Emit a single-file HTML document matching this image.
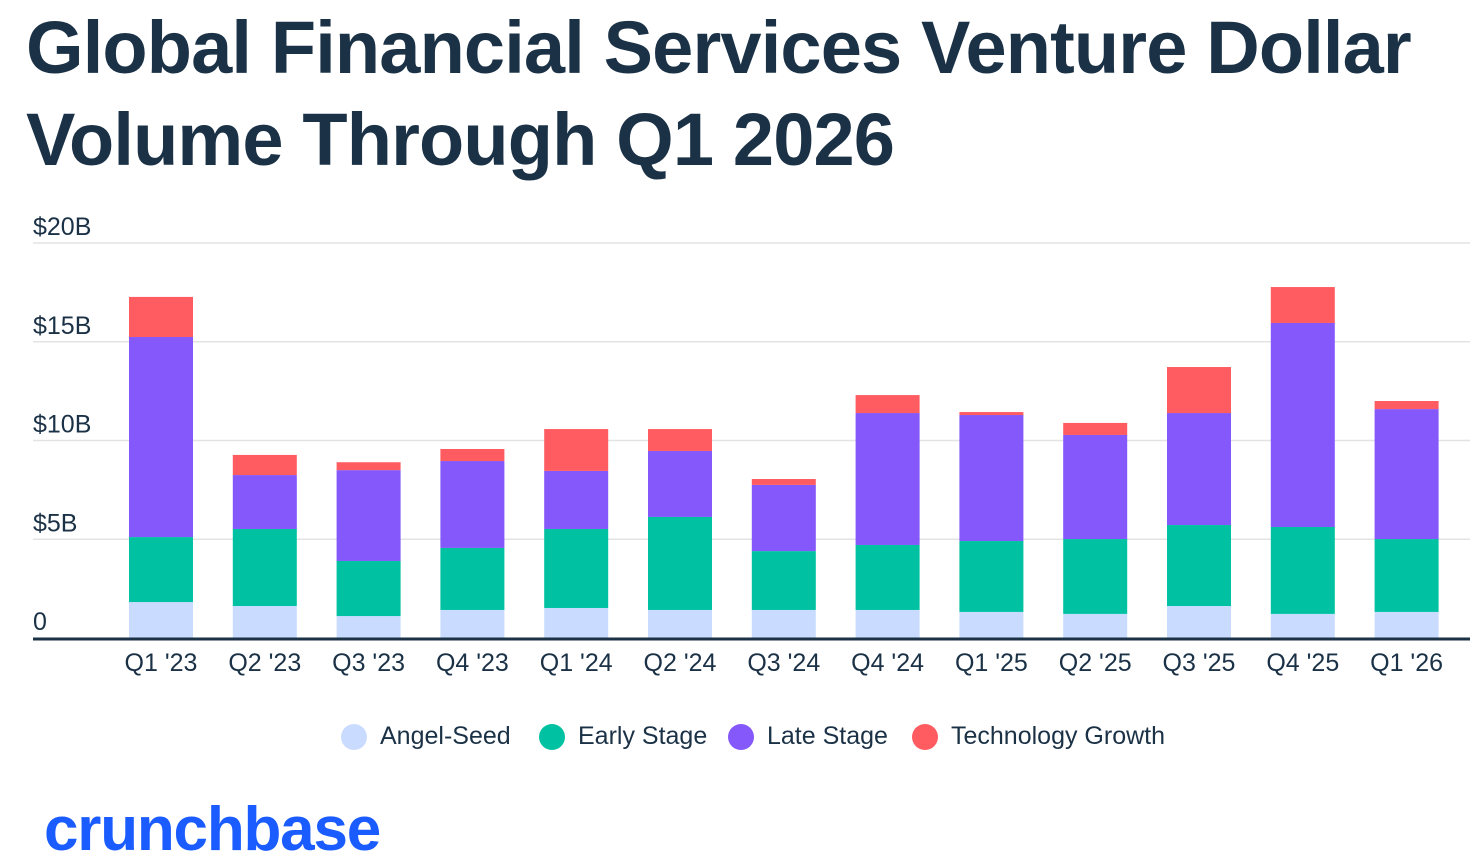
<!DOCTYPE html>
<html><head><meta charset="utf-8"><style>
body{margin:0;width:1482px;height:868px;background:#fff;overflow:hidden;font-family:"Liberation Sans",sans-serif}
h1{position:absolute;left:26px;top:2px;margin:0;font-size:74px;line-height:92px;font-weight:bold;color:#1b3146;letter-spacing:-0.85px}
.logo{position:absolute;left:44px;top:794px;font-size:62px;font-weight:bold;color:#1a5cff;letter-spacing:-1.2px}
</style></head><body>
<h1>Global Financial Services Venture Dollar<br>Volume Through Q1 2026</h1>
<svg id="c" width="1482" height="868" style="position:absolute;left:0;top:0"></svg>
<div class="logo">crunchbase</div>
<script>
const categories=["Q1 '23","Q2 '23","Q3 '23","Q4 '23","Q1 '24","Q2 '24","Q3 '24","Q4 '24","Q1 '25","Q2 '25","Q3 '25","Q4 '25","Q1 '26"];
const angelSeed=[1.82,1.62,1.11,1.42,1.52,1.42,1.42,1.42,1.32,1.22,1.62,1.22,1.32];
const earlyStage=[3.29,3.90,2.79,3.14,4.00,4.71,2.98,3.29,3.59,3.79,4.10,4.40,3.69];
const lateStage=[10.13,2.73,4.60,4.40,2.94,3.34,3.35,6.68,6.38,5.27,5.67,10.33,6.58];
const techGrowth=[2.03,1.02,0.40,0.61,2.12,1.11,0.30,0.91,0.15,0.61,2.33,1.82,0.41];
const tickValues=[0,5,10,15,20];
const tickLabels=["0","$5B","$10B","$15B","$20B"];
const seriesNames=["Angel-Seed","Early Stage","Late Stage","Technology Growth"];
const colors=["#c9dcff","#00c2a2","#8458fb","#ff5c62"];
const svg=document.getElementById('c');const NS="http://www.w3.org/2000/svg";
function y(v){return 638-v*19.75;}
function x(i){return 161+i*103.8;}
function mk(t,a,txt){const e=document.createElementNS(NS,t);for(const k in a)e.setAttribute(k,a[k]);if(txt!=null)e.textContent=txt;svg.appendChild(e);return e;}
tickValues.forEach((v,i)=>{
 if(v>0){const g=mk('line',{x1:33,x2:1470,y1:y(v),y2:y(v),stroke:'#e3e3e3','stroke-width':1.5});
 
 }
 const t=mk('text',{x:33,y:y(v)-8,'font-size':25,fill:'#1b3146','font-family':'Liberation Sans'},tickLabels[i]);
 
 
});
const series=[angelSeed,earlyStage,lateStage,techGrowth];
categories.forEach((c,i)=>{
 let base=0;
 series.forEach((s,k)=>{
  const r=mk('rect',{x:x(i)-32,width:64,y:y(base+s[i]),height:y(base)-y(base+s[i]),fill:colors[k]});
  
  
  base+=s[i];
 });
 const t=mk('text',{x:x(i),y:671,'font-size':25,fill:'#1b3146','text-anchor':'middle','font-family':'Liberation Sans'},c);
 
 
});
const ax=mk('line',{x1:33,x2:1470,y1:639,y2:639,stroke:'#1b3146','stroke-width':3});


const lx=[354,552,741,925];
seriesNames.forEach((n,k)=>{
 const c=mk('circle',{cx:lx[k],cy:737,r:13,fill:colors[k]});
 
 
 const t=mk('text',{x:lx[k]+26,y:744,'font-size':25,fill:'#1b3146','font-family':'Liberation Sans'},n);
 
 
});
</script>
</body></html>
